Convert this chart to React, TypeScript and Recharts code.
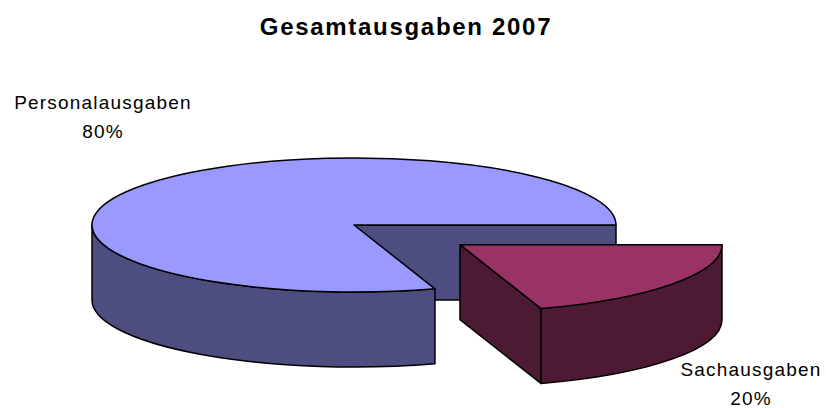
import { PieChart, Pie, Cell } from 'recharts';

const CATEGORIES = ['Personalausgaben', 'Sachausgaben'];
const SHARES = [80, 20];
const PERCENT_LABELS = ['80%', '20%'];
const TOP_COLORS = ['#9999FF', '#993366'];
const SIDE_COLORS = ['#4D4D80', '#4D1A33'];
const EXPLODE = [0, 0.5];

const data = CATEGORIES.map((name, i) => ({ name, value: SHARES[i] }));

// 3d look
const TILT = 0.256;
const DEPTH = 75;
const RAD = Math.PI / 180;
const FONT = 'Arial, "Liberation Sans", sans-serif';

// label anchors (center x, first baseline, line gap)
const LABEL_POS = [
  { x: 103, y: 109, gap: 29 },
  { x: 751, y: 376, gap: 29 },
];

function Sector3D(props: any) {
  const { cx, cy, outerRadius: r, startAngle: s, endAngle: e, payload } = props;
  const i = props.index ?? CATEGORIES.indexOf(payload?.name);
  const ry = r * TILT;
  const mid = (s + e) / 2;
  const x0 = cx + EXPLODE[i] * r * Math.cos(mid * RAD);
  const y0 = cy - EXPLODE[i] * ry * Math.sin(mid * RAD);
  const p = (a: number, dy = 0) =>
    `${x0 + r * Math.cos(a * RAD)} ${y0 - ry * Math.sin(a * RAD) + dy}`;

  const common = { stroke: '#000', strokeWidth: 1.5, strokeLinejoin: 'round' as const };
  const faces: JSX.Element[] = [];

  // cut faces turned towards the viewer
  if (Math.cos(s * RAD) > 0.0001) {
    faces.push(
      <path key="fs" d={`M ${x0} ${y0} L ${p(s)} L ${p(s, DEPTH)} L ${x0} ${y0 + DEPTH} Z`} fill={SIDE_COLORS[i]} {...common} />
    );
  }
  if (Math.cos(e * RAD) < -0.0001) {
    faces.push(
      <path key="fe" d={`M ${x0} ${y0} L ${p(e)} L ${p(e, DEPTH)} L ${x0} ${y0 + DEPTH} Z`} fill={SIDE_COLORS[i]} {...common} />
    );
  }
  // front part of the rim
  [-360, 0, 360].forEach((k) => {
    const lo = Math.max(s, 180 + k);
    const hi = Math.min(e, 360 + k);
    if (hi - lo > 0.01) {
      faces.push(
        <path
          key={`w${k}`}
          d={`M ${p(lo)} A ${r} ${ry} 0 0 0 ${p(hi)} L ${p(hi, DEPTH)} A ${r} ${ry} 0 0 1 ${p(lo, DEPTH)} Z`}
          fill={SIDE_COLORS[i]}
          {...common}
        />
      );
    }
  });
  const large = e - s > 180 ? 1 : 0;
  faces.push(
    <path key="top" d={`M ${x0} ${y0} L ${p(s)} A ${r} ${ry} 0 ${large} 0 ${p(e)} Z`} fill={TOP_COLORS[i]} {...common} />
  );
  return <g>{faces}</g>;
}

function renderLabel(props: any) {
  const i = props.index ?? CATEGORIES.indexOf(props.payload?.name);
  const pos = LABEL_POS[i];
  return (
    <text
      x={pos.x}
      y={pos.y}
      textAnchor="middle"
      fill="#000"
      style={{ fontFamily: FONT, fontSize: 19, letterSpacing: 1.2 }}
    >
      <tspan x={pos.x} y={pos.y}>{CATEGORIES[i]}</tspan>
      <tspan x={pos.x} y={pos.y + pos.gap}>{PERCENT_LABELS[i]}</tspan>
    </text>
  );
}

export default function App() {
  return (
    <div style={{ position: 'relative', width: 826, height: 408, background: '#fff' }}>
      <style>{'body{margin:0}'}</style>
      <div
        style={{
          position: 'absolute',
          top: 15,
          left: -7,
          width: 826,
          textAlign: 'center',
          fontFamily: FONT,
          fontWeight: 700,
          fontSize: 24,
          lineHeight: '24px',
          letterSpacing: 1.7,
          color: '#000',
        }}
      >
        Gesamtausgaben 2007
      </div>
      <PieChart
        width={826}
        height={408}
        margin={{ top: 0, right: 0, bottom: 0, left: 0 }}
        style={{ position: 'absolute', top: 0, left: 0 }}
      >
        <Pie
          data={data}
          dataKey="value"
          nameKey="name"
          cx={354}
          cy={225}
          outerRadius={262}
          startAngle={0}
          endAngle={360}
          shape={Sector3D}
          label={renderLabel}
          labelLine={false}
          isAnimationActive={false}
        >
          {data.map((d, i) => (
            <Cell key={d.name} fill={TOP_COLORS[i]} />
          ))}
        </Pie>
      </PieChart>
    </div>
  );
}
